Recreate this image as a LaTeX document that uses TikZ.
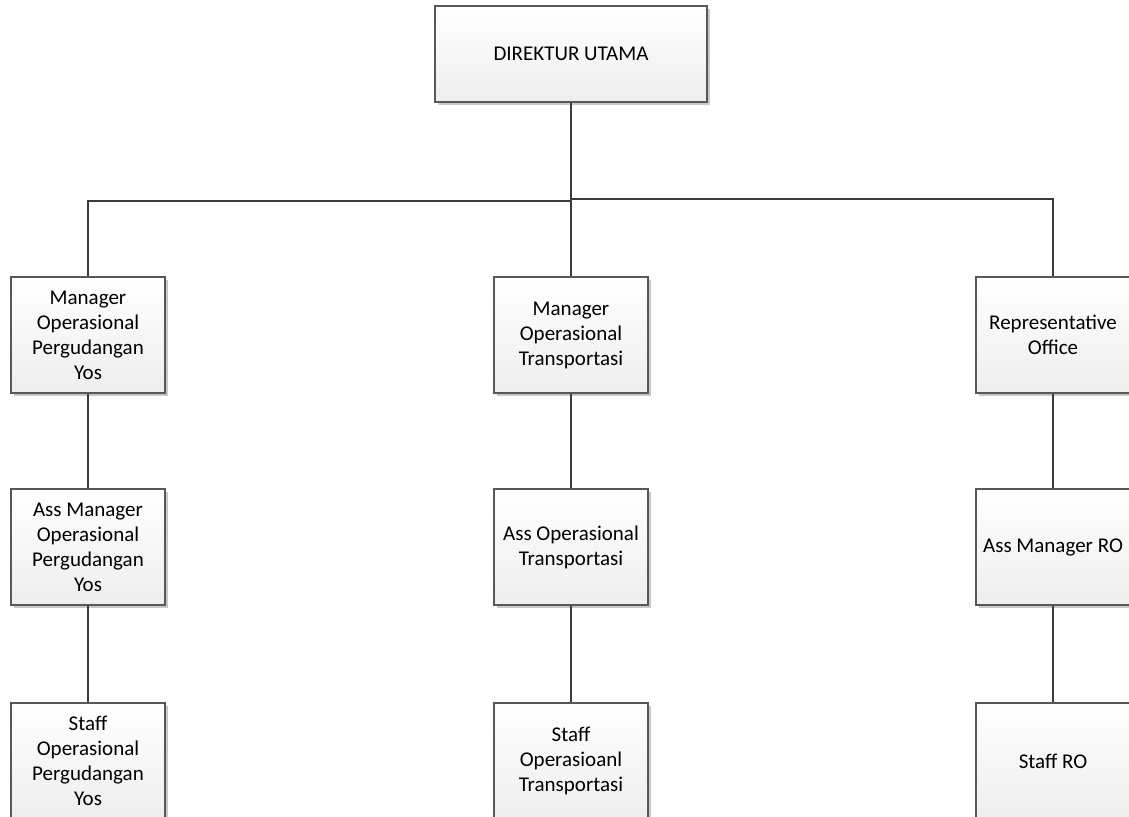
\documentclass[tikz,border=0pt]{standalone}
\usepackage{fontspec}
\setmainfont{Carlito}
\usetikzlibrary{shadows}
\definecolor{boxline}{HTML}{585858}
\definecolor{conn}{HTML}{3C3C3C}
\definecolor{boxbot}{HTML}{EEEEEE}
\definecolor{shadowc}{HTML}{C8C8C8}
\tikzset{
  orgbox/.style={draw=boxline, line width=1.1pt, top color=white, bottom color=boxbot,
    minimum width=154pt, minimum height=116pt, align=center, inner sep=2pt,
    font=\fontsize{21pt}{25pt}\selectfont,
    general shadow={fill=shadowc, shadow xshift=3pt, shadow yshift=-3pt}},
  link/.style={draw=conn, line width=2.4pt}
}
\begin{document}
\begin{tikzpicture}[x=1pt,y=-1pt]
\useasboundingbox (0,0) rectangle (1129,816);
\node[orgbox, minimum width=272pt, minimum height=96pt] (top) at (571,54) {DIREKTUR UTAMA};

\node[orgbox] (m1) at (88,335) {Manager\\Operasional\\Pergudangan\\Yos};
\node[orgbox] (m2) at (571,335) {Manager\\Operasional\\Transportasi};
\node[orgbox] (m3) at (1053,335) {Representative\\Office};

\node[orgbox] (a1) at (88,547) {Ass Manager\\Operasional\\Pergudangan\\Yos};
\node[orgbox] (a2) at (571,547) {Ass Operasional\\Transportasi};
\node[orgbox] (a3) at (1053,547) {Ass Manager RO};

\node[orgbox] (s1) at (88,761) {Staff\\Operasional\\Pergudangan\\Yos};
\node[orgbox] (s2) at (571,761) {Staff\\Operasioanl\\Transportasi};
\node[orgbox] (s3) at (1053,761) {Staff RO};

\coordinate (jl) at (571,201);
\coordinate (jr) at (571,199);

\draw[link] (top.south) -- (m2.north);
\draw[link] (jl) -| (m1.north);
\draw[link] (jr) -| (m3.north);
\draw[link] (m1.south) -- (a1.north);
\draw[link] (m2.south) -- (a2.north);
\draw[link] (m3.south) -- (a3.north);
\draw[link] (a1.south) -- (s1.north);
\draw[link] (a2.south) -- (s2.north);
\draw[link] (a3.south) -- (s3.north);
\end{tikzpicture}
\end{document}
